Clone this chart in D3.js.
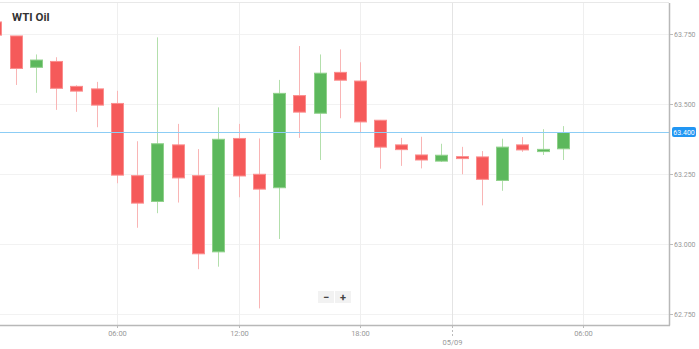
<!DOCTYPE html>
<html><head><meta charset="utf-8">
<script src="https://cdn.jsdelivr.net/npm/d3@7"></script>
<style>html,body{margin:0;padding:0;background:#fff;}svg{display:block;font-family:Roboto,"Open Sans",sans-serif;}</style>
</head><body>
<script>
// Hourly WTI candles (index = slot on chart)
const opens  = [63.793,63.743,63.631,63.652,63.563,63.554,63.502,63.244,63.152,63.354,63.244,62.972,63.377,63.249,63.201,63.530,63.467,63.613,63.582,63.442,63.354,63.318,63.296,63.312,63.311,63.227,63.354,63.330,63.340];
const highs  = [63.800,63.743,63.677,63.667,63.567,63.579,63.547,63.367,63.738,63.429,63.339,63.488,63.429,63.377,63.586,63.707,63.677,63.695,63.649,63.443,63.379,63.383,63.358,63.347,63.332,63.376,63.382,63.410,63.421];
const lows   = [63.740,63.568,63.540,63.479,63.472,63.417,63.217,63.058,63.110,63.148,62.910,62.919,63.167,62.770,63.018,63.379,63.300,63.449,63.397,63.269,63.279,63.270,63.293,63.249,63.138,63.190,63.329,63.318,63.300];
const closes = [63.746,63.627,63.657,63.556,63.546,63.496,63.246,63.146,63.358,63.236,62.965,63.374,63.243,63.196,63.538,63.471,63.610,63.585,63.436,63.346,63.337,63.300,63.317,63.305,63.231,63.346,63.336,63.338,63.398];
const yTicks = [62.75, 63.0, 63.25, 63.5, 63.75];
const xTickSlots  = [6, 12, 18, 22.53, 29];
const xTickLabels = ["06:00", "12:00", "18:00", "05/09", "06:00"];
const lastPrice = 63.400;
const title = "WTI Oil";

const W = 699, H = 349;
const plotL = 0, plotR = 669, plotT = 3, plotB = 325;
const svg = d3.select("body").append("svg").attr("width", W).attr("height", H);

const x = d3.scaleLinear().domain([0, 33]).range([-4.7, -4.7 + 33 * 20.27]);
const y = d3.scaleLinear().domain([62.75, 63.75]).range([314, 34]);

svg.append("defs").append("clipPath").attr("id", "clip")
  .append("rect").attr("x", plotL).attr("y", plotT).attr("width", plotR - plotL).attr("height", plotB - plotT);

// top line
svg.append("line").attr("x1", 0).attr("x2", plotR).attr("y1", 2.5).attr("y2", 2.5).attr("stroke", "#e8e8e8");

// horizontal grid
svg.append("g").selectAll("line").data(yTicks).join("line")
  .attr("x1", plotL).attr("x2", plotR)
  .attr("y1", d => Math.round(y(d)) + 0.5).attr("y2", d => Math.round(y(d)) + 0.5)
  .attr("stroke", "#f2f2f2");

// vertical grid
svg.append("g").selectAll("line").data(xTickSlots).join("line")
  .attr("x1", d => Math.round(x(d)) + 0.5).attr("x2", d => Math.round(x(d)) + 0.5)
  .attr("y1", plotT).attr("y2", plotB)
  .attr("stroke", (d, i) => xTickLabels[i].includes("/") ? "#e4e4e4" : "#efefef");

// candles
const data = opens.map((o, i) => ({i, o, h: highs[i], l: lows[i], c: closes[i], up: closes[i] >= o}));
const cg = svg.append("g").attr("clip-path", "url(#clip)");
cg.selectAll("line.wick").data(data).join("line").attr("class", "wick")
  .attr("x1", d => Math.round(x(d.i)) + 0.5).attr("x2", d => Math.round(x(d.i)) + 0.5)
  .attr("y1", d => y(d.h)).attr("y2", d => y(d.l))
  .attr("stroke", d => d.up ? "#b3dfac" : "#f9b5b5").attr("stroke-width", 1);
const bw = 12;
cg.selectAll("rect.body").data(data).join("rect").attr("class", "body")
  .attr("x", d => Math.round(x(d.i)) - bw / 2 + 0.5)
  .attr("y", d => y(Math.max(d.o, d.c)))
  .attr("width", bw)
  .attr("height", d => Math.max(1.5, Math.abs(y(d.o) - y(d.c))))
  .attr("fill", d => d.up ? "#5cb85c" : "#f55a5a")
  .attr("stroke", d => d.up ? "#8fd08a" : "#fb8d8d").attr("stroke-width", 1);

// last price line
svg.append("line").attr("x1", plotL).attr("x2", plotR)
  .attr("y1", Math.round(y(lastPrice)) + 0.5).attr("y2", Math.round(y(lastPrice)) + 0.5)
  .attr("stroke", "#8ccdf5").attr("stroke-width", 1);

// axes borders
svg.append("line").attr("x1", plotR + 0.5).attr("x2", plotR + 0.5).attr("y1", plotT).attr("y2", plotB + 0.5)
  .attr("stroke", "#b8b8b8").attr("stroke-width", 1.5);
svg.append("line").attr("x1", 0).attr("x2", plotR + 1).attr("y1", plotB + 0.5).attr("y2", plotB + 0.5)
  .attr("stroke", "#b8b8b8").attr("stroke-width", 1.5);

// y axis ticks & labels
const ya = svg.append("g");
ya.selectAll("line").data(yTicks).join("line")
  .attr("x1", plotR + 1).attr("x2", plotR + 4)
  .attr("y1", d => Math.round(y(d)) + 0.5).attr("y2", d => Math.round(y(d)) + 0.5)
  .attr("stroke", "#bbb");
ya.selectAll("text").data(yTicks).join("text")
  .attr("x", plotR + 5).attr("y", d => y(d) + 2.5)
  .attr("font-size", 7).attr("fill", "#999")
  .text(d => d3.format(".3f")(d));

// last price label
const ly = y(lastPrice);
svg.append("rect").attr("x", plotR + 3).attr("y", ly - 5).attr("width", 24).attr("height", 10)
  .attr("rx", 2).attr("fill", "#2196f3");
svg.append("text").attr("x", plotR + 15).attr("y", ly + 2.5).attr("text-anchor", "middle")
  .attr("font-size", 7).attr("fill", "#fff").text(d3.format(".3f")(lastPrice));

// x axis ticks & labels
const xa = svg.append("g");
xTickSlots.forEach((s, i) => {
  const px = Math.round(x(s)) + 0.5;
  const isDate = xTickLabels[i].includes("/");
  xa.append("line").attr("x1", px).attr("x2", px).attr("y1", plotB + 1).attr("y2", isDate ? plotB + 11 : plotB + 3)
    .attr("stroke", "#bbb").attr("stroke-dasharray", isDate ? "2,2" : null);
  xa.append("text").attr("x", px).attr("y", isDate ? 345 : 336).attr("text-anchor", "middle")
    .attr("font-size", 7.5).attr("fill", "#999").text(xTickLabels[i]);
});

// title
svg.append("text").attr("x", 12).attr("y", 21).attr("font-size", 11.5).attr("font-weight", "bold")
  .attr("fill", "#333").text(title);

// zoom buttons
const zb = svg.append("g");
zb.append("rect").attr("x", 318).attr("y", 291).attr("width", 16).attr("height", 12).attr("fill", "#f2f2f2");
zb.append("rect").attr("x", 335).attr("y", 291).attr("width", 16).attr("height", 12).attr("fill", "#f2f2f2");
zb.append("text").attr("x", 326).attr("y", 300.5).attr("text-anchor", "middle").attr("font-size", 11).attr("font-weight", "bold").attr("fill", "#444").text("−");
zb.append("text").attr("x", 343).attr("y", 300.5).attr("text-anchor", "middle").attr("font-size", 11).attr("font-weight", "bold").attr("fill", "#444").text("+");
</script>
</body></html>
